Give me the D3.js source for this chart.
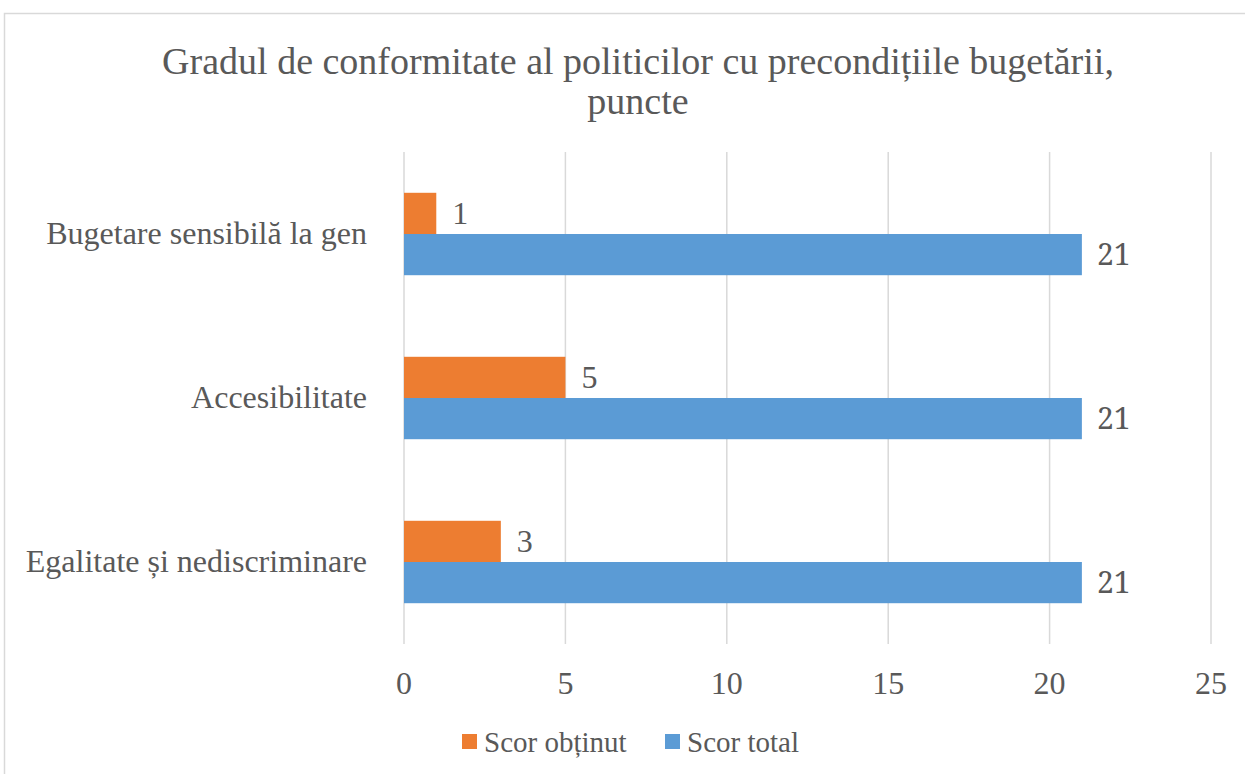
<!DOCTYPE html>
<html>
<head>
<meta charset="utf-8">
<script src="https://cdn.jsdelivr.net/npm/d3@7"></script>
<style>
  body { margin: 0; background: #fff; }
  text { font-family: "Liberation Serif", "Times New Roman", serif; fill: #595959; }
</style>
</head>
<body>
<script>
// chart data
var categories = ["Bugetare sensibilă la gen", "Accesibilitate", "Egalitate și nediscriminare"];
var scorObtinut = [1, 5, 3];
var scorTotal = [21, 21, 21];
var seriesNames = ["Scor obținut", "Scor total"];
var xTicks = [0, 5, 10, 15, 20, 25];

var colors = { orange: "#ED7D31", blue: "#5B9BD5" };

var W = 1245, H = 774;
var margin = { left: 404, right: 34, top: 152, bottom: 130 };

var svg = d3.select("body").append("svg").attr("width", W).attr("height", H);

// chart frame
svg.append("rect")
  .attr("x", 4.5).attr("y", 13.5)
  .attr("width", W + 10).attr("height", H + 10)
  .attr("fill", "none").attr("stroke", "#d9d9d9").attr("stroke-width", 1.5);

var x = d3.scaleLinear().domain([0, 25]).range([margin.left, W - margin.right]);
var y = d3.scaleBand().domain(categories).range([margin.top, H - margin.bottom]).paddingInner(0).paddingOuter(0);
var sub = d3.scaleBand().domain(seriesNames).range([0, y.bandwidth()]).paddingInner(0).paddingOuter(0.99);

// gridlines
svg.append("g").selectAll("line").data(xTicks).join("line")
  .attr("x1", d => x(d)).attr("x2", d => x(d))
  .attr("y1", margin.top).attr("y2", H - margin.bottom)
  .attr("stroke", "#d9d9d9").attr("stroke-width", 1.5);

// tick labels
svg.append("g").selectAll("text").data(xTicks).join("text")
  .attr("x", d => x(d)).attr("y", 694)
  .attr("text-anchor", "middle").attr("font-size", 32)
  .text(d => d);

// category labels
svg.append("g").selectAll("text").data(categories).join("text")
  .attr("x", 367).attr("y", d => y(d) + y.bandwidth() / 2)
  .attr("dy", "0.32em").attr("text-anchor", "end").attr("font-size", 32)
  .text(d => d);

var rows = categories.map((c, i) => ({ cat: c, values: [scorObtinut[i], scorTotal[i]] }));

var g = svg.append("g").selectAll("g").data(rows).join("g")
  .attr("transform", d => "translate(0," + y(d.cat) + ")");

// orange bars (top) and blue bars (bottom)
g.append("rect")
  .attr("x", x(0)).attr("y", sub(seriesNames[0]))
  .attr("width", d => x(d.values[0]) - x(0)).attr("height", sub.bandwidth())
  .attr("fill", colors.orange);
g.append("rect")
  .attr("x", x(0)).attr("y", sub(seriesNames[1]))
  .attr("width", d => x(d.values[1]) - x(0)).attr("height", sub.bandwidth())
  .attr("fill", colors.blue);

// value labels
g.append("text")
  .attr("x", d => x(d.values[0]) + 16).attr("y", sub(seriesNames[0]) + sub.bandwidth() / 2)
  .attr("dy", "0.32em").attr("font-size", 32).attr("fill", "#404040")
  .text(d => d.values[0]);
g.append("text")
  .attr("x", d => x(d.values[1]) + 15).attr("y", sub(seriesNames[1]) + sub.bandwidth() / 2)
  .attr("dy", "0.36em").attr("font-size", 30).attr("fill", "#404040")
  .style("font-family", "'Noto Serif', 'DejaVu Serif', serif")
  .text(d => d.values[1]);

// title
var title = svg.append("text").attr("text-anchor", "middle").attr("font-size", 38);
title.append("tspan").attr("x", 638).attr("y", 74).text("Gradul de conformitate al politicilor cu precondițiile bugetării,");
title.append("tspan").attr("x", 638).attr("y", 114).text("puncte");

// legend
var legendX = [462, 665];
var lg = svg.append("g").selectAll("g").data(seriesNames).join("g")
  .attr("transform", (d, i) => "translate(" + legendX[i] + ",742)");
lg.append("rect").attr("x", 0).attr("y", -8).attr("width", 15).attr("height", 15)
  .attr("fill", (d, i) => i === 0 ? colors.orange : colors.blue);
lg.append("text").attr("x", 22).attr("dy", "0.33em").attr("font-size", 29).text(d => d);
</script>
</body>
</html>
